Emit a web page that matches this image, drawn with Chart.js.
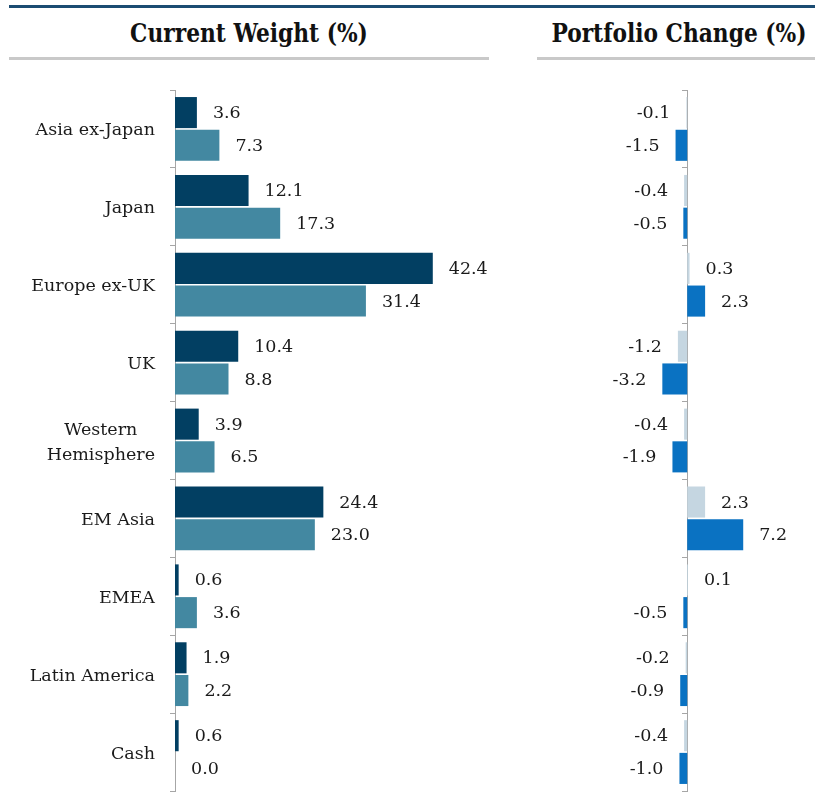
<!DOCTYPE html>
<html>
<head>
<meta charset="utf-8">
<script src="https://cdn.jsdelivr.net/npm/chart.js@4/dist/chart.umd.min.js"></script>
<style>
  html, body { margin: 0; padding: 0; background: #fff; }
  #wrap { position: relative; width: 815px; height: 795px; overflow: hidden; }
  .rule { position: absolute; }
  .title {
    position: absolute; top: 18px; text-align: center;
    font-family: "DejaVu Serif Condensed", "DejaVu Serif", serif;
    font-stretch: condensed; font-weight: bold; font-size: 26px; color: #111;
    transform: scaleX(0.93);
  }
  canvas { position: absolute; }
</style>
</head>
<body>
<div id="wrap">
  <div class="rule" style="left:9px;top:5px;width:806px;height:3px;background:#1b4c72"></div>
  <div class="title" style="left:9px;width:480px">Current Weight (%)</div>
  <div class="title" style="left:537px;width:284px">Portfolio Change (%)</div>
  <div class="rule" style="left:9px;top:57px;width:480px;height:3px;background:#c9c9c9"></div>
  <div class="rule" style="left:537px;top:57px;width:278px;height:3px;background:#c9c9c9"></div>
  <canvas id="weightChart" width="500" height="711" style="left:0;top:85px"></canvas>
  <canvas id="changeChart" width="275" height="711" style="left:540px;top:85px"></canvas>
</div>
<script>
const regions = ['Asia ex-Japan', 'Japan', 'Europe ex-UK', 'UK', ['Western', 'Hemisphere'], 'EM Asia', 'EMEA', 'Latin America', 'Cash'];

// current weight, two series
const weightA = [3.6, 12.1, 42.4, 10.4, 3.9, 24.4, 0.6, 1.9, 0.6];
const weightB = [7.3, 17.3, 31.4, 8.8, 6.5, 23.0, 3.6, 2.2, 0.0];

// portfolio change, two series
const changeA = [-0.1, -0.4, 0.3, -1.2, -0.4, 2.3, 0.1, -0.2, -0.4];
const changeB = [-1.5, -0.5, 2.3, -3.2, -1.9, 7.2, -0.5, -0.9, -1.0];

const textFont = '17.5px "DejaVu Serif", serif';
const textColor = '#1a1a1a';
const axisGray = '#a6a6a6';

// value labels just past the end of each bar
const valueLabels = {
  id: 'valueLabels',
  afterDatasetsDraw(chart) {
    const ctx = chart.ctx;
    ctx.save();
    ctx.font = textFont;
    ctx.fillStyle = textColor;
    ctx.textBaseline = 'middle';
    chart.data.datasets.forEach((ds, i) => {
      chart.getDatasetMeta(i).data.forEach((bar, j) => {
        const v = ds.data[j];
        if (v < 0) {
          ctx.textAlign = 'right';
          ctx.fillText(v.toFixed(1), bar.x - 16, bar.y + 1);
        } else {
          ctx.textAlign = 'left';
          ctx.fillText(v.toFixed(1), bar.x + 16, bar.y + 1);
        }
      });
    });
    ctx.restore();
  }
};

// category names, lines centred on each other, right edge 20px off the axis
const regionLabels = {
  id: 'regionLabels',
  afterDraw(chart) {
    const ctx = chart.ctx;
    const yScale = chart.scales.y;
    const right = chart.chartArea.left - 20;
    ctx.save();
    ctx.font = textFont;
    ctx.fillStyle = textColor;
    ctx.textAlign = 'center';
    ctx.textBaseline = 'middle';
    chart.data.labels.forEach((label, i) => {
      const lines = Array.isArray(label) ? label : [label];
      const w = Math.max(...lines.map(l => ctx.measureText(l).width));
      const cy = yScale.getPixelForValue(i) + 2;
      const lh = 25;
      lines.forEach((l, k) => {
        ctx.fillText(l, right - w / 2, cy + (k - (lines.length - 1) / 2) * lh);
      });
    });
    ctx.restore();
  }
};

const yAxis = {
  grid: { offset: true, drawOnChartArea: false, drawTicks: true, tickLength: 5, color: axisGray },
  border: { color: axisGray, width: 1 },
  ticks: { display: false }
};

new Chart(document.getElementById('weightChart'), {
  type: 'bar',
  data: {
    labels: regions,
    datasets: [
      { data: weightA, backgroundColor: '#023f62' },
      { data: weightB, backgroundColor: '#4388a1' }
    ]
  },
  options: {
    indexAxis: 'y',
    responsive: false,
    animation: false,
    categoryPercentage: 0.84,
    barPercentage: 0.95,
    layout: { padding: { top: 5, bottom: 5, right: 21 } },
    plugins: { legend: { display: false }, tooltip: { enabled: false } },
    scales: {
      x: { display: false, min: 0, max: 50 },
      y: Object.assign({}, yAxis, { afterFit(scale) { scale.width = 175; } })
    }
  },
  plugins: [valueLabels, regionLabels]
});

new Chart(document.getElementById('changeChart'), {
  type: 'bar',
  data: {
    labels: regions,
    datasets: [
      { data: changeA, backgroundColor: '#c5d6e1' },
      { data: changeB, backgroundColor: '#0a72c2' }
    ]
  },
  options: {
    indexAxis: 'y',
    responsive: false,
    animation: false,
    categoryPercentage: 0.84,
    barPercentage: 0.95,
    layout: { padding: { top: 5, bottom: 5, left: 85, right: 50 } },
    plugins: { legend: { display: false }, tooltip: { enabled: false } },
    scales: {
      x: { display: false, min: -8, max: 10 },
      y: Object.assign({}, yAxis, { position: { x: 0 } })
    }
  },
  plugins: [valueLabels]
});
</script>
</body>
</html>
